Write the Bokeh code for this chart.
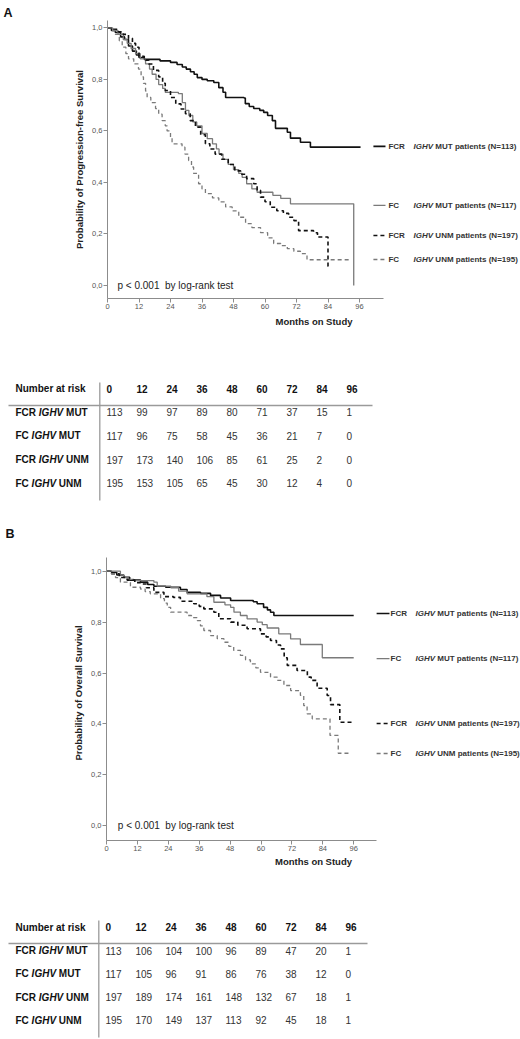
from bokeh.plotting import figure
from bokeh.models import Range1d, FixedTicker, CustomJSTickFormatter
from bokeh.embed import file_html
from bokeh.resources import INLINE
from bokeh.core.properties import value

FONT = "Liberation Sans"
WIDTH = 520

# ---------------- data ----------------
x_ticks = [0, 12, 24, 36, 48, 60, 72, 84, 96]
y_ticks = [0.0, 0.2, 0.4, 0.6, 0.8, 1.0]

groups = ["FCR", "FC", "FCR", "FC"]
ighv_status = ["MUT", "MUT", "UNM", "UNM"]
n_patients = [113, 117, 197, 195]

# Panel A: progression-free survival (event time in months, survival after the step)
a_fcr_mut_t = [1.5, 3, 5, 6.5, 8, 9.5, 11, 12, 14, 20, 24, 26.5, 28.5, 30, 31.6, 33, 34.2, 36, 38, 40.5,
               42.4, 44, 45, 52, 52.5, 54, 55.7, 58, 59.5, 61, 62.8, 64, 68.5, 69.7, 73.5, 77.3]
a_fcr_mut_s = [0.99, 0.982, 0.965, 0.955, 0.93, 0.91, 0.895, 0.885, 0.878, 0.872, 0.866, 0.858, 0.848, 0.84,
               0.83, 0.82, 0.807, 0.8, 0.795, 0.788, 0.768, 0.75, 0.73, 0.728, 0.706, 0.695, 0.687, 0.68,
               0.672, 0.66, 0.64, 0.61, 0.595, 0.572, 0.556, 0.537]
a_fcr_mut_end = 96.4

a_fc_mut_t = [2, 4, 6, 7.5, 9, 10.7, 12.5, 14.5, 16, 17, 18.5, 19.5, 21, 22, 27, 28.5, 29.7, 31, 32.5, 34,
              36, 38, 40, 41.5, 42.5, 44, 46, 48, 50, 51.3, 53, 55, 57, 63, 66, 69.7, 93.8]
a_fc_mut_s = [0.99, 0.975, 0.955, 0.94, 0.92, 0.9, 0.88, 0.86, 0.84, 0.82, 0.8, 0.78, 0.765, 0.75, 0.745,
              0.71, 0.68, 0.66, 0.635, 0.62, 0.59, 0.57, 0.55, 0.53, 0.51, 0.49, 0.47, 0.45, 0.435, 0.42,
              0.395, 0.375, 0.362, 0.35, 0.338, 0.317, 0.0]
a_fc_mut_end = 93.8

a_fcr_unm_t = [2, 4, 6, 8, 9.5, 10.7, 12, 14, 15.7, 17.5, 19.5, 21, 22, 24, 26, 28, 29.7, 31.5, 33.5, 35.5,
               37.3, 39, 41, 43.5, 46, 48.5, 50.7, 53, 55.7, 57, 58.3, 60, 62, 64.5, 67, 69, 71, 72.8, 78.5,
               80, 84]
a_fcr_unm_s = [0.995, 0.985, 0.975, 0.96, 0.94, 0.925, 0.89, 0.875, 0.86, 0.835, 0.81, 0.785, 0.757, 0.73,
               0.705, 0.685, 0.667, 0.64, 0.615, 0.585, 0.55, 0.53, 0.51, 0.49, 0.47, 0.445, 0.432, 0.415,
               0.395, 0.37, 0.343, 0.325, 0.304, 0.29, 0.28, 0.265, 0.252, 0.213, 0.205, 0.188, 0.075]
a_fcr_unm_end = 84.3

a_fc_unm_t = [1.5, 3, 4.5, 5.6, 7, 8, 10, 11.8, 12.8, 13.7, 14.5, 15.1, 16.5, 18.3, 19.5, 20.8, 22, 22.7,
              24, 24.6, 28.4, 29.5, 30.9, 32, 32.8, 34.7, 36, 37.3, 40, 42.4, 45, 47.5, 50, 52.6, 55, 58.3,
              61, 63.3, 66, 68.5, 71, 73.5, 76]
a_fc_unm_s = [0.99, 0.975, 0.95, 0.925, 0.9, 0.88, 0.86, 0.84, 0.81, 0.785, 0.755, 0.73, 0.71, 0.687,
              0.665, 0.64, 0.62, 0.6, 0.575, 0.55, 0.537, 0.51, 0.485, 0.46, 0.435, 0.395, 0.375, 0.357,
              0.34, 0.325, 0.305, 0.29, 0.265, 0.24, 0.225, 0.205, 0.185, 0.163, 0.155, 0.143, 0.133,
              0.124, 0.1]
a_fc_unm_end = 92.0

# Panel B: overall survival
b_fcr_mut_t = [2, 4, 6.7, 9, 13.2, 16, 18.4, 23, 28.7, 31.3, 36.5, 40.4, 44.3, 48.2, 57, 58.5, 61, 62.5,
               63.7, 65]
b_fcr_mut_s = [0.995, 0.985, 0.976, 0.965, 0.957, 0.948, 0.941, 0.937, 0.928, 0.917, 0.913, 0.905, 0.895,
               0.885, 0.88, 0.872, 0.858, 0.848, 0.839, 0.826]
b_fcr_mut_end = 96.0

b_fc_mut_t = [5.4, 6.7, 8.5, 10.6, 18.4, 19.7, 25, 28, 31.3, 39, 41.7, 46, 48.2, 49.5, 52, 54.6, 58.5,
              60.5, 62.4, 66.9, 71.5, 75.3, 83.8]
b_fc_mut_s = [0.985, 0.975, 0.968, 0.963, 0.957, 0.941, 0.935, 0.922, 0.911, 0.9, 0.878, 0.868, 0.858,
              0.839, 0.826, 0.813, 0.8, 0.79, 0.777, 0.754, 0.734, 0.712, 0.66]
b_fc_mut_end = 96.0

b_fcr_unm_t = [2, 5, 8, 11, 13.2, 15.5, 18.4, 22.3, 26, 28.7, 33.9, 36, 37.8, 41.7, 43.6, 48.2, 51, 54.6,
               59.8, 62, 63.7, 66, 67.6, 69, 70.2, 74, 78, 79.5, 81.8, 85.7, 87, 90.6]
b_fcr_unm_s = [0.99, 0.975, 0.965, 0.955, 0.95, 0.935, 0.917, 0.9, 0.897, 0.882, 0.872, 0.862, 0.852,
               0.839, 0.813, 0.8, 0.788, 0.774, 0.754, 0.742, 0.728, 0.71, 0.695, 0.66, 0.63, 0.61, 0.584,
               0.571, 0.54, 0.512, 0.476, 0.407]
b_fcr_unm_end = 96.0

b_fc_unm_t = [1.6, 3.5, 5.4, 9.3, 13.2, 15, 17, 21, 22.5, 23.6, 24.9, 31.3, 33, 35.2, 36.5, 37.8, 40.4,
              43, 45.6, 47.5, 49.4, 52, 54, 55.9, 58, 59.8, 63.7, 66.3, 68.9, 71.5, 75.3, 76.6, 77.9,
              79.9, 86.8, 90]
b_fc_unm_s = [0.99, 0.975, 0.957, 0.937, 0.93, 0.92, 0.911, 0.892, 0.875, 0.858, 0.839, 0.826, 0.818,
              0.806, 0.785, 0.767, 0.747, 0.735, 0.721, 0.705, 0.689, 0.669, 0.652, 0.636, 0.62, 0.603,
              0.584, 0.571, 0.551, 0.531, 0.512, 0.472, 0.44, 0.42, 0.355, 0.285]
b_fc_unm_end = 95.0

# Numbers at risk
risk_a = [[113, 99, 97, 89, 80, 71, 37, 15, 1],
          [117, 96, 75, 58, 45, 36, 21, 7, 0],
          [197, 173, 140, 106, 85, 61, 25, 2, 0],
          [195, 153, 105, 65, 45, 30, 12, 4, 0]]
risk_b = [[113, 106, 104, 100, 96, 89, 47, 20, 1],
          [117, 105, 96, 91, 86, 76, 38, 12, 0],
          [197, 189, 174, 161, 148, 132, 67, 18, 1],
          [195, 170, 149, 137, 113, 92, 45, 18, 1]]

p_text = "p < 0.001\u00a0 by log-rank test"
panel_letters = ["A", "B"]

# ---------------- styles ----------------
line_colors = ["#111111", "#7a7a7a", "#111111", "#7a7a7a"]
line_dashes = ["solid", "solid", "4 3", "4 3"]
line_widths = [1.6, 1.3, 1.6, 1.3]
AXIS_COLOR = "#8c8c8c"
LETTER_SIZE = "12.5px"

# Arial/Liberation Sans bold advance widths (em)
BOLD_W = {"F": 0.611, "C": 0.722, "R": 0.722, "I": 0.278, "G": 0.778, "H": 0.722, "V": 0.667, " ": 0.278}


def text_w(s, size):
    return sum(BOLD_W[c] for c in s) * size


def plain_fig(height, x_range, y_range):
    p = figure(width=WIDTH, height=height, output_backend="svg", toolbar_location=None,
               x_range=x_range, y_range=y_range, x_axis_type=None, y_axis_type=None, min_border=0)
    p.outline_line_color = None
    p.xgrid.visible = False
    p.ygrid.visible = False
    return p


def letter_strip(letter, height, x_px, baseline_px):
    # thin strip above panel A holding its letter (pixel-like ranges, y downward)
    p = plain_fig(height, Range1d(0, WIDTH), Range1d(height, 0))
    p.text(x=[x_px], y=[baseline_px], text=[letter], text_font=value(FONT), text_font_size=LETTER_SIZE,
           text_font_style="bold", text_color="#111111", text_baseline="alphabetic", text_align="left")
    return p


def km_panel(curves, ends, ylabel, height, left, bottom, ppm, y_lo, y_hi, y_bound_hi,
             leg_y, leg_line, leg_grp_x, leg_ighv_x, p_x, xlab_standoff):
    frame_w = WIDTH - left
    p = figure(width=WIDTH, height=height, output_backend="svg", toolbar_location=None,
               x_range=Range1d(0, frame_w / ppm), y_range=Range1d(y_lo, y_hi),
               min_border_left=left, min_border_right=0, min_border_top=0, min_border_bottom=bottom)
    p.outline_line_color = None
    p.xgrid.visible = False
    p.ygrid.visible = False

    for i, (t, s) in enumerate(curves):
        xs = [0] + list(t) + [ends[i]]
        ys = [1.0] + list(s) + [s[-1]]
        p.step(xs, ys, mode="after", line_color=line_colors[i], line_width=line_widths[i],
               line_dash=line_dashes[i])

    # legend
    for i in range(4):
        p.line([leg_line[0], leg_line[1]], [leg_y[i], leg_y[i]], line_color=line_colors[i],
               line_width=line_widths[i], line_dash=line_dashes[i])
    p.text(x=[leg_grp_x] * 4, y=leg_y, text=groups, text_font=value(FONT), text_font_size="8px",
           text_font_style="bold", text_color="#333333", text_baseline="middle", text_align="left")
    p.text(x=[leg_ighv_x] * 4, y=leg_y, text=["IGHV"] * 4, text_font=value(FONT), text_font_size="8px",
           text_font_style="bold italic", text_color="#333333", text_baseline="middle", text_align="left")
    off = text_w("IGHV ", 8)
    p.text(x=[leg_ighv_x] * 4, y=leg_y,
           text=[f"{st} patients (N={n})" for st, n in zip(ighv_status, n_patients)],
           x_offset=off, text_font=value(FONT), text_font_size="8px", text_font_style="bold",
           text_color="#333333", text_baseline="middle", text_align="left")

    p.text(x=[p_x], y=[0.0], text=[p_text], text_font=value(FONT), text_font_size="10px",
           text_color="#222222", text_baseline="middle", text_align="left")

    xa = p.xaxis[0]
    xa.ticker = FixedTicker(ticks=x_ticks)
    xa.bounds = (0, 105)
    xa.axis_label = "Months on Study"
    xa.axis_label_standoff = xlab_standoff
    xa.major_label_standoff = 1

    ya = p.yaxis[0]
    ya.ticker = FixedTicker(ticks=y_ticks)
    ya.bounds = (y_lo, y_bound_hi)
    ya.formatter = CustomJSTickFormatter(code="return tick.toFixed(1).replace('.', ',');")
    ya.axis_label = ylabel
    ya.axis_label_standoff = 4
    ya.major_label_standoff = 1

    for ax in (xa, ya):
        ax.axis_line_color = AXIS_COLOR
        ax.axis_line_width = 1
        ax.major_tick_line_color = AXIS_COLOR
        ax.major_tick_out = 4
        ax.major_tick_in = 0
        ax.minor_tick_line_color = None
        ax.major_label_text_font = FONT
        ax.major_label_text_font_size = "7.5px"
        ax.major_label_text_color = "#555555"
        ax.axis_label_text_font = FONT
        ax.axis_label_text_font_size = "9.5px"
        ax.axis_label_text_font_style = "bold"
        ax.axis_label_text_color = "#222222"
    return p


def risk_panel(risk, page_top, height, col0, row0, row_step, hline_y, hline_x0, hline_x1, vline_x,
               vline_y0, vline_y1, next_letter=None, letter_xy=None):
    col_ppm = 2.5
    x_lo = (0 - col0) / col_ppm
    x_hi = (WIDTH - col0) / col_ppm
    r_top = (page_top - row0) / row_step
    r_bot = (page_top + height - row0) / row_step
    p = plain_fig(height, Range1d(x_lo, x_hi), Range1d(r_bot, r_top))

    hr = (hline_y - row0) / row_step
    p.line([(hline_x0 - col0) / col_ppm, (hline_x1 - col0) / col_ppm], [hr, hr], line_color="#9a9a9a",
           line_width=1.3)
    vx = (vline_x - col0) / col_ppm
    p.line([vx, vx], [(vline_y0 - row0) / row_step, (vline_y1 - row0) / row_step], line_color="#9a9a9a",
           line_width=1.3)

    lab_x = (15 - col0) / col_ppm
    common = dict(text_font=value(FONT), text_font_size="10px", text_baseline="middle", text_align="left")
    # header
    p.text(x=[lab_x], y=[-1], text=["Number at risk"], text_font_style="bold", text_color="#111111", **common)
    p.text(x=x_ticks, y=[-1] * len(x_ticks), text=[str(t) for t in x_ticks], text_font_style="bold",
           text_color="#111111", **common)
    # row labels
    rows = list(range(4))
    ighv_off = [text_w(g + " ", 10) for g in groups]
    st_off = [o + text_w("IGHV ", 10) for o in ighv_off]
    p.text(x=[lab_x] * 4, y=rows, text=groups, text_font_style="bold", text_color="#111111", **common)
    p.text(x=[lab_x] * 4, y=rows, text=["IGHV"] * 4, x_offset=ighv_off, text_font_style="bold italic",
           text_color="#111111", **common)
    p.text(x=[lab_x] * 4, y=rows, text=ighv_status, x_offset=st_off, text_font_style="bold",
           text_color="#111111", **common)
    # cells
    cx, cy, ct = [], [], []
    for r, vals in enumerate(risk):
        for m, v in zip(x_ticks, vals):
            cx.append(m)
            cy.append(r)
            ct.append(str(v))
    p.text(x=cx, y=cy, text=ct, text_font_style="normal", text_color="#333333", **common)

    if next_letter is not None:
        lx, ly = letter_xy
        p.text(x=[(lx - col0) / col_ppm], y=[(ly - row0) / row_step], text=[next_letter],
               text_font=value(FONT), text_font_size=LETTER_SIZE, text_font_style="bold",
               text_color="#111111", text_baseline="alphabetic", text_align="left")
    return p


curves_a = [(a_fcr_mut_t, a_fcr_mut_s), (a_fc_mut_t, a_fc_mut_s),
            (a_fcr_unm_t, a_fcr_unm_s), (a_fc_unm_t, a_fc_unm_s)]
ends_a = [a_fcr_mut_end, a_fc_mut_end, a_fcr_unm_end, a_fc_unm_end]
curves_b = [(b_fcr_mut_t, b_fcr_mut_s), (b_fc_mut_t, b_fc_mut_s),
            (b_fcr_unm_t, b_fcr_unm_s), (b_fc_unm_t, b_fc_unm_s)]
ends_b = [b_fcr_mut_end, b_fc_mut_end, b_fcr_unm_end, b_fc_unm_end]

STRIP_H = 20
# Strip with letter A (page y 0-20)
strip_a = letter_strip(panel_letters[0], height=STRIP_H, x_px=3, baseline_px=12)

# Panel A (page y 20-340): month 0 at x 107, 2.625 px/month; S=0 at y 285, 257.6 px/unit
fig_a = km_panel(curves_a, ends_a, "Probability of Progression-free Survival", height=340 - STRIP_H,
                 left=107, bottom=42, ppm=2.625, y_lo=-13 / 257.6, y_hi=(285 - STRIP_H) / 257.6,
                 y_bound_hi=(285 - STRIP_H) / 257.6,
                 leg_y=[0.54, 0.311, 0.194, 0.101], leg_line=(101.3, 105.9), leg_grp_x=107.0,
                 leg_ighv_x=116.6, p_x=3.8, xlab_standoff=4)
# Table A (page y 340-545), also carries the letter B
table_a = risk_panel(risk_a, page_top=340, height=205, col0=106, row0=411.7, row_step=23.67,
                     hline_y=405, hline_x0=8, hline_x1=372, vline_x=99.3, vline_y0=382, vline_y1=500,
                     next_letter=panel_letters[1], letter_xy=(5, 533))

# Panel B (page y 545-885): month 0 at x 106, 2.575 px/month; S=0 at y 825.3, 254.6 px/unit
fig_b = km_panel(curves_b, ends_b, "Probability of Overall Survival", height=340, left=106,
                 bottom=45, ppm=2.575, y_lo=-14.7 / 254.6, y_hi=280.3 / 254.6, y_bound_hi=1.055,
                 leg_y=[0.834, 0.657, 0.402, 0.284], leg_line=(104.9, 109.9), leg_grp_x=110.3,
                 leg_ighv_x=120.0, p_x=4.4, xlab_standoff=2)
# Table B (page y 885-1039)
table_b = risk_panel(risk_b, page_top=885, height=154, col0=105, row0=950, row_step=23.33,
                     hline_y=943, hline_x0=8, hline_x1=367, vline_x=98.3, vline_y0=920, vline_y1=1037)

with open("out.html", "w") as f:
    f.write(file_html([strip_a, fig_a, table_a, fig_b, table_b], INLINE))
